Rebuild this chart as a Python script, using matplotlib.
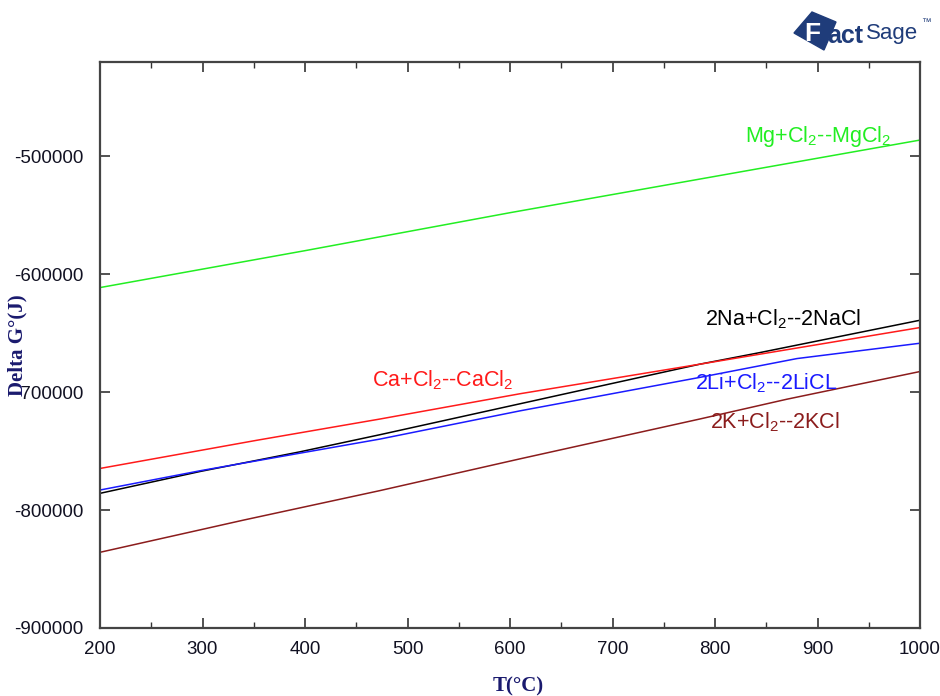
import matplotlib
matplotlib.use("Agg")
import matplotlib.pyplot as plt
from matplotlib.patches import Polygon
from matplotlib.ticker import MultipleLocator

plt.rcParams["font.family"] = ["Liberation Sans", "DejaVu Sans"]
plt.rcParams["mathtext.fontset"] = "custom"
plt.rcParams["mathtext.rm"] = "Liberation Sans"
plt.rcParams["axes.unicode_minus"] = False

# Gibbs energy of formation of the chlorides vs temperature
T_mg = [200, 400, 600, 800, 1000]
G_mg = [-611300, -580000, -547800, -517000, -486200]

T_na = [200, 298, 395, 473, 610, 649, 785, 844, 1000]
G_na = [-785800, -767200, -750600, -736100, -709800, -702300, -676300, -666400, -639000]

T_ca = [200, 353, 473, 610, 785, 1000]
G_ca = [-764700, -740800, -722800, -701300, -676300, -645200]

T_li = [200, 298, 473, 610, 785, 880, 1000]
G_li = [-783000, -766600, -739800, -715800, -687500, -671500, -658500]

T_k = [200, 298, 340, 473, 610, 785, 870, 1000]
G_k = [-835800, -816700, -808500, -783500, -756500, -722800, -706000, -682500]

curves = [
    (T_mg, G_mg, "#22ee22", "Mg+Cl$_\\mathregular{2}$--MgCl$_\\mathregular{2}$", 829, -483000),
    (T_na, G_na, "#000000", "2Na+Cl$_\\mathregular{2}$--2NaCl", 790, -638100),
    (T_ca, G_ca, "#ff1a1a", "Ca+Cl$_\\mathregular{2}$--CaCl$_\\mathregular{2}$", 465, -689800),
    (T_li, G_li, "#1a1aff", "2Li+Cl$_\\mathregular{2}$--2LiCL", 780, -692400),
    (T_k, G_k, "#8b1c1c", "2K+Cl$_\\mathregular{2}$--2KCl", 795, -725400),
]

W, H = 940, 696
fig = plt.figure(figsize=(W / 100, H / 100), dpi=100)
ax = fig.add_axes([100 / W, 1 - 628 / H, 820 / W, 566 / H])

for T, G, color, label, lx, ly in curves:
    ax.plot(T, G, color=color, lw=1.1)
    ax.text(lx, ly, label, color=color, fontsize=15.5, ha="left", va="center")

ax.set_xlim(200, 1000)
ax.set_ylim(-900000, -420000)
ax.xaxis.set_major_locator(MultipleLocator(100))
ax.xaxis.set_minor_locator(MultipleLocator(50))
ax.set_yticks([-900000, -800000, -700000, -600000, -500000])
ax.set_yticklabels(["-900000", "-800000", "-700000", "-600000", "-500000"])

ax.tick_params(which="both", direction="in", top=True, right=True,
               colors="#333333", labelcolor="#111122", labelsize=13.5)
ax.tick_params(which="major", length=7, width=1.2)
ax.tick_params(which="minor", length=4, width=1.0)
ax.tick_params(axis="x", which="major", pad=9)
ax.tick_params(axis="y", which="major", pad=12)
for sp in ax.spines.values():
    sp.set_color("#444444")
    sp.set_linewidth(1.6)

ax.set_xlabel("T(°C)", family="Liberation Serif", fontweight="bold",
              fontsize=15, color="#1a1a6e")
ax.xaxis.set_label_coords(0.51, -0.085)
ax.set_ylabel("Delta G°(J)", family="Liberation Serif", fontweight="bold",
              fontsize=15, color="#1a1a6e")
ax.yaxis.set_label_coords(-0.088, 0.5)


def px(x, y):
    return x / W, 1 - y / H


# FactSage logo
logo = Polygon([px(794, 33), px(812, 12), px(836, 22), px(824, 50)],
               closed=True, transform=fig.transFigure, color="#1f3c7a")
fig.patches.append(logo)
fig.text(*px(804, 34), "F", fontsize=19, fontweight="bold", color="white",
         ha="left", va="center")
fig.text(*px(827, 36), "act", fontsize=18, fontweight="bold", color="#1f3c7a",
         ha="left", va="center")
fig.text(*px(866, 34), "Sage", fontsize=16, color="#1f3c7a", ha="left", va="center")
fig.text(*px(921, 22), "\u2122", fontsize=7, color="#1f3c7a", ha="left", va="center")

fig.savefig("out.png", dpi=100, facecolor="white")
